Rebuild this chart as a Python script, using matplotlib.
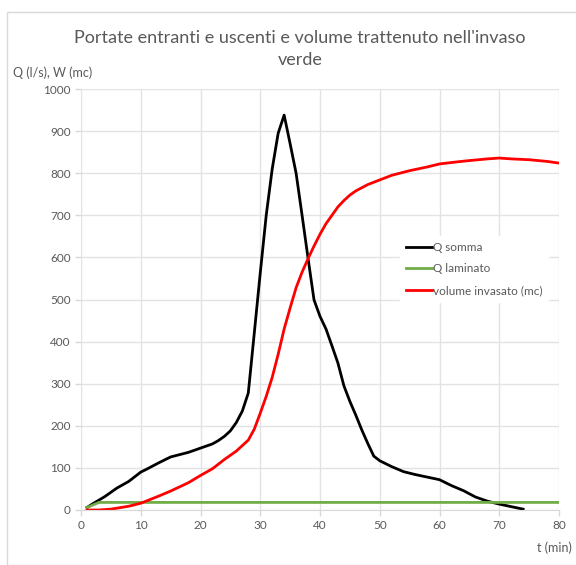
import matplotlib.pyplot as plt
from matplotlib.patches import Rectangle

plt.rcParams['font.family'] = ['Lato', 'DejaVu Sans']

# Q somma (l/s)
t_somma = [1, 2, 4, 5, 6, 8, 10, 11, 13, 15, 18, 20, 22, 23, 24, 25, 26, 27, 28,
           29, 30, 31, 32, 33, 34, 35, 36, 37, 38, 39, 40, 41, 42, 43, 44, 45, 46,
           47, 48, 49, 50, 52, 54, 56, 58, 60, 62, 64, 66, 68, 70, 72, 74]
q_somma = [6, 15, 32, 42, 52, 68, 90, 97, 112, 126, 137, 147, 157, 165, 175, 188, 208, 235, 278,
           420, 563, 700, 810, 895, 938, 870, 800, 700, 598, 499, 460, 430, 390, 349, 295, 258, 225,
           190, 158, 128, 117, 103, 91, 84, 78, 72, 58, 46, 31, 21, 14, 8, 2]

# Q laminato (l/s)
t_lam = [1, 3, 80]
q_lam = [6, 18, 18]

# volume invasato (mc)
t_vol = [1, 3, 5, 8, 10, 13, 15, 18, 20, 22, 24, 25, 26, 28, 29, 30, 31, 32, 33, 34, 35, 36,
         37, 38, 39, 40, 41, 42, 43, 44, 45, 46, 48, 50, 52, 55, 58, 60, 63, 65, 68, 70, 72,
         75, 78, 80]
w_vol = [0, 0, 2, 9, 16, 33, 45, 65, 82, 98, 120, 130, 140, 166, 192, 230, 270, 315, 370, 430, 480, 528,
         565, 597, 627, 655, 680, 700, 720, 735, 748, 758, 773, 784, 795, 806, 815, 822, 827, 830, 834, 836, 834,
         832, 828, 824]

grey = '#595959'
gridc = '#D9D9D9'

fig = plt.figure(figsize=(5.76, 5.65), dpi=100)
fig.patches.append(Rectangle((7 / 576, 0), 1, 1 - 12 / 565, transform=fig.transFigure,
                             fill=False, edgecolor=gridc, linewidth=1))
ax = fig.add_axes([81 / 576, 1 - 510 / 565, 478 / 576, 421 / 565])

ax.plot(t_somma, q_somma, color='black', linewidth=2, label='Q somma')
ax.plot(t_lam, q_lam, color='#70AD47', linewidth=2, label='Q laminato')
ax.plot(t_vol, w_vol, color='#FF0000', linewidth=2, label='volume invasato (mc)')

ax.set_xlim(0, 80)
ax.set_ylim(0, 1000)
ax.set_xticks(range(0, 81, 10))
ax.set_yticks(range(0, 1001, 100))
ax.grid(True, color='#E3E3E3', linewidth=1)
ax.set_axisbelow(True)
for s in ax.spines.values():
    s.set_visible(False)
ax.spines['bottom'].set_visible(True)
ax.spines['bottom'].set_color(gridc)
ax.tick_params(colors=grey, labelsize=8.5, length=4, width=1)
ax.tick_params(axis='both', color=gridc)

fig.text(300 / 576, 1 - 38 / 565, "Portate entranti e uscenti e volume trattenuto nell'invaso",
         ha='center', va='center', fontsize=13, color=grey)
fig.text(300 / 576, 1 - 60 / 565, "verde", ha='center', va='center', fontsize=13, color=grey)
fig.text(13 / 576, 1 - 73 / 565, "Q (l/s), W (mc)", ha='left', va='center', fontsize=9, color=grey)
fig.text(572 / 576, 1 - 548 / 565, "t (min)", ha='right', va='center', fontsize=9, color=grey)

leg = ax.legend(loc='upper left', bbox_to_anchor=(0.655, 0.665), frameon=True, fontsize=8.5,
                handlelength=2.2, handletextpad=0.1, labelspacing=0.9, borderpad=0.5)
leg.get_frame().set_edgecolor('white')
leg.get_frame().set_alpha(1)
for txt in leg.get_texts():
    txt.set_color(grey)

fig.savefig('out.png', dpi=100)
